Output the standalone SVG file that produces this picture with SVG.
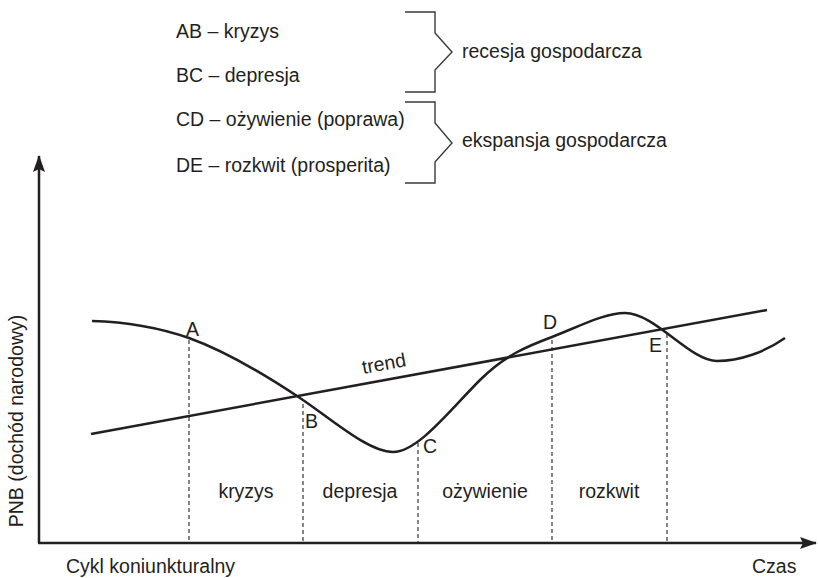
<svg xmlns="http://www.w3.org/2000/svg" width="818" height="578" viewBox="0 0 818 578">
  <style>
    text { font-family: "Liberation Sans", Arial, sans-serif; font-size: 19.5px; fill: #231f20; }
    .axis { stroke: #231f20; stroke-width: 2.5; fill: none; }
    .curve { stroke: #231f20; stroke-width: 2.5; fill: none; }
    .guide { stroke: #231f20; stroke-width: 1.1; stroke-dasharray: 4 3; fill: none; }
    .brace { stroke: #3a3a3a; stroke-width: 1.4; fill: none; }
  </style>
  <defs>
    <marker id="arrow" viewBox="0 0 17 12" refX="16" refY="6" markerWidth="17" markerHeight="12" markerUnits="userSpaceOnUse" orient="auto">
      <path d="M0 0 L17 6 L0 12 L3 6 z" fill="#231f20"/>
    </marker>
  </defs>

  <!-- legend -->
  <g id="legend">
    <text x="176" y="38">AB – kryzys</text>
    <text x="176" y="82">BC – depresja</text>
    <text x="176" y="126">CD – ożywienie (poprawa)</text>
    <text x="176" y="172">DE – rozkwit (prosperita)</text>
    <path class="brace" d="M405 12 H435 V33 L452 52 L435 70 V92 H405"/>
    <path class="brace" d="M405 102 H435 V123 L452 143 L435 162 V183 H405"/>
    <text x="462" y="58">recesja gospodarcza</text>
    <text x="462" y="147">ekspansja gospodarcza</text>
  </g>

  <!-- axes -->
  <g id="axes">
    <line class="axis" x1="39" y1="543" x2="39" y2="156" marker-end="url(#arrow)"/>
    <line class="axis" x1="38" y1="543" x2="816" y2="543" marker-end="url(#arrow)"/>
    <text transform="translate(23 421) rotate(-90)" text-anchor="middle">PNB (dochód narodowy)</text>
    <text x="66" y="573">Cykl koniunkturalny</text>
    <text x="752" y="573">Czas</text>
  </g>

  <!-- phase boundaries -->
  <g id="connectors">
    <line class="guide" x1="189" y1="340" x2="189" y2="542"/>
    <line class="guide" x1="303" y1="404" x2="303" y2="542"/>
    <line class="guide" x1="418" y1="443" x2="418" y2="542"/>
    <line class="guide" x1="552" y1="340" x2="552" y2="542"/>
    <line class="guide" x1="667" y1="334" x2="667" y2="542"/>
  </g>

  <!-- trend line -->
  <g id="trend">
    <line class="curve" x1="91" y1="434" x2="767" y2="310"/>
    <text transform="translate(385 370) rotate(-10.4)" text-anchor="middle">trend</text>
  </g>

  <!-- business cycle curve -->
  <g id="cycle">
    <path class="curve" d="M92 321 C130 322 160 328 189 338 C225 351 270 378 300 398 C330 418 368 452 393 452 C418 452 450 410 480 380 C505 355 528 346 552 337 C580 326 605 313 625 313 C655 313 690 361 717 361 C740 361 765 352 785 338"/>
  </g>

  <!-- point labels -->
  <g id="points">
    <text x="186" y="336">A</text>
    <text x="305" y="428">B</text>
    <text x="423" y="453">C</text>
    <text x="543" y="329">D</text>
    <text x="649" y="352">E</text>
  </g>

  <!-- phase names -->
  <g id="phases">
    <text x="246" y="498" text-anchor="middle">kryzys</text>
    <text x="360" y="498" text-anchor="middle">depresja</text>
    <text x="485" y="498" text-anchor="middle">ożywienie</text>
    <text x="609" y="498" text-anchor="middle">rozkwit</text>
  </g>
</svg>
